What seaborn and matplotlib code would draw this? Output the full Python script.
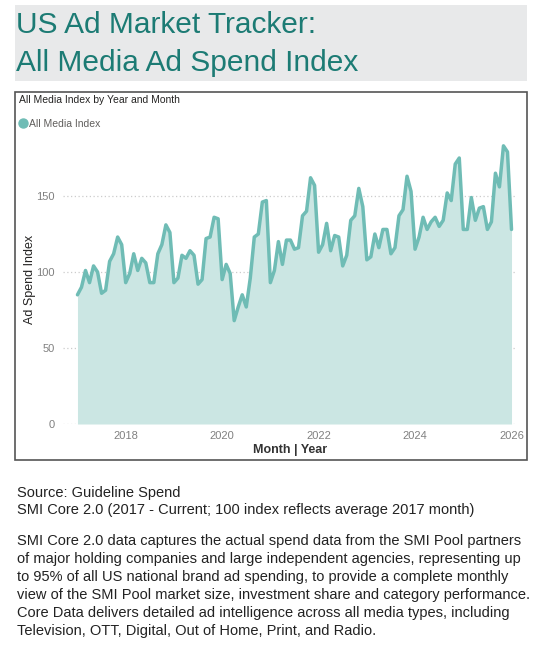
import pandas as pd
import matplotlib
matplotlib.use("Agg")
import matplotlib.pyplot as plt
import seaborn as sns
from matplotlib.patches import Rectangle
from matplotlib.lines import Line2D

# monthly index values, Jan 2017 .. Jan 2026
idx_2017 = [85, 90, 101, 93, 104, 100, 86, 88, 107, 112, 123, 118]
idx_2018 = [93, 99, 112, 101, 109, 106, 93, 93, 112, 118, 131, 126]
idx_2019 = [93, 96, 111, 109, 114, 111, 92, 95, 122, 123, 136, 135]
idx_2020 = [95, 105, 99, 68, 77, 85, 77, 96, 123, 125, 146, 147]
idx_2021 = [93, 101, 120, 105, 121, 121, 115, 116, 137, 140, 162, 157]
idx_2022 = [113, 118, 132, 114, 124, 123, 104, 111, 134, 137, 155, 143]
idx_2023 = [108, 110, 125, 116, 128, 128, 112, 116, 137, 141, 163, 153]
idx_2024 = [115, 123, 136, 128, 133, 136, 130, 134, 152, 147, 171, 175]
idx_2025 = [128, 128, 149, 134, 142, 143, 128, 133, 165, 156, 183, 179]
idx_2026 = [128]

year_ticks = [2018, 2020, 2022, 2024, 2026]
y_ticks = [0, 50, 100, 150]

source_lines = [
    "Source: Guideline Spend",
    "SMI Core 2.0 (2017 - Current; 100 index reflects average 2017 month)",
]
body_lines = [
    "SMI Core 2.0 data captures the actual spend data from the SMI Pool partners",
    "of major holding companies and large independent agencies, representing up",
    "to 95% of all US national brand ad spending, to provide a complete monthly",
    "view of the SMI Pool market size, investment share and category performance.",
    "Core Data delivers detailed ad intelligence across all media types, including",
    "Television, OTT, Digital, Out of Home, Print, and Radio.",
]

values = (idx_2017 + idx_2018 + idx_2019 + idx_2020 + idx_2021 + idx_2022
          + idx_2023 + idx_2024 + idx_2025 + idx_2026)
months = pd.date_range("2017-01-01", periods=len(values), freq="MS")
df = pd.DataFrame({
    "year": months.year + (months.month - 1) / 12,
    "All Media Index": values,
})

sns.set_theme(style="white")
plt.rcParams["font.family"] = ["Liberation Sans", "DejaVu Sans"]

W, H = 539, 654
fig = plt.figure(figsize=(W / 100, H / 100), dpi=100)

def fx(px):
    return px / W

def fy(py):
    return 1 - py / H

# title banner
fig.patches.append(Rectangle((fx(15), fy(81)), fx(512), 76 / H, transform=fig.transFigure,
                             facecolor="#e8e9ea", edgecolor="none", zorder=-2))
fig.text(fx(16), fy(33), "US Ad Market Tracker:", fontsize=21.5, color="#1c7b74", va="baseline")
fig.text(fx(16), fy(71), "All Media Ad Spend Index", fontsize=21.5, color="#1c7b74", va="baseline")

# visual frame
fig.patches.append(Rectangle((fx(15), fy(460)), fx(512), 368 / H, transform=fig.transFigure,
                             facecolor="white", edgecolor="#555555", linewidth=1.2, zorder=-2))
fig.text(fx(19), fy(100), "All Media Index by Year and Month", fontsize=7.5,
         color="#252423", va="center")

ax = fig.add_axes([fx(63), fy(424), fx(517) - fx(63), (424 - 135.2) / H])
ax.set_facecolor("none")

line_col = "#6fbcb5"
ax.fill_between(df["year"], df["All Media Index"], 0, color="#cbe6e3", linewidth=0, zorder=1)
sns.lineplot(data=df, x="year", y="All Media Index", ax=ax, color=line_col,
             linewidth=2.5, zorder=2, legend=False)

ax.set_xlim(2016.70, 2026.114)
ax.set_ylim(0, 190)
ax.set_xticks(year_ticks)
ax.set_xticklabels([str(y) for y in year_ticks])
ax.set_yticks(y_ticks)
ax.tick_params(axis="both", length=0, labelsize=8, labelcolor="#808080")
ax.tick_params(axis="x", pad=5)
ax.tick_params(axis="y", pad=6)
for s in ax.spines.values():
    s.set_visible(False)
ax.grid(axis="y", color="#cccccc", linestyle=(0, (1, 2)), linewidth=0.9)
ax.grid(axis="x", visible=False)
ax.set_axisbelow(True)

ax.set_xlabel("Month | Year", fontsize=9, fontweight="bold", color="#333333", labelpad=2)
ax.set_ylabel("Ad Spend Index", fontsize=9, color="#252423", labelpad=0)

# legend
handle = Line2D([], [], marker="o", linestyle="none", markersize=6.5,
                markerfacecolor=line_col, markeredgecolor=line_col)
fig.legend([handle], ["All Media Index"], loc="center left",
           bbox_to_anchor=(fx(14), fy(124)), frameon=False, fontsize=7.5,
           labelcolor="#605e5c", handlelength=0.8, handletextpad=0.15, borderpad=0)

# notes below the chart
for i, line in enumerate(source_lines):
    fig.text(fx(17), fy(493 + 17 * i), line, fontsize=10.5, color="#222222", va="center")
for i, line in enumerate(body_lines):
    fig.text(fx(17), fy(541 + 18 * i), line, fontsize=10.5, color="#222222", va="center")

fig.savefig("out.png", dpi=100)
